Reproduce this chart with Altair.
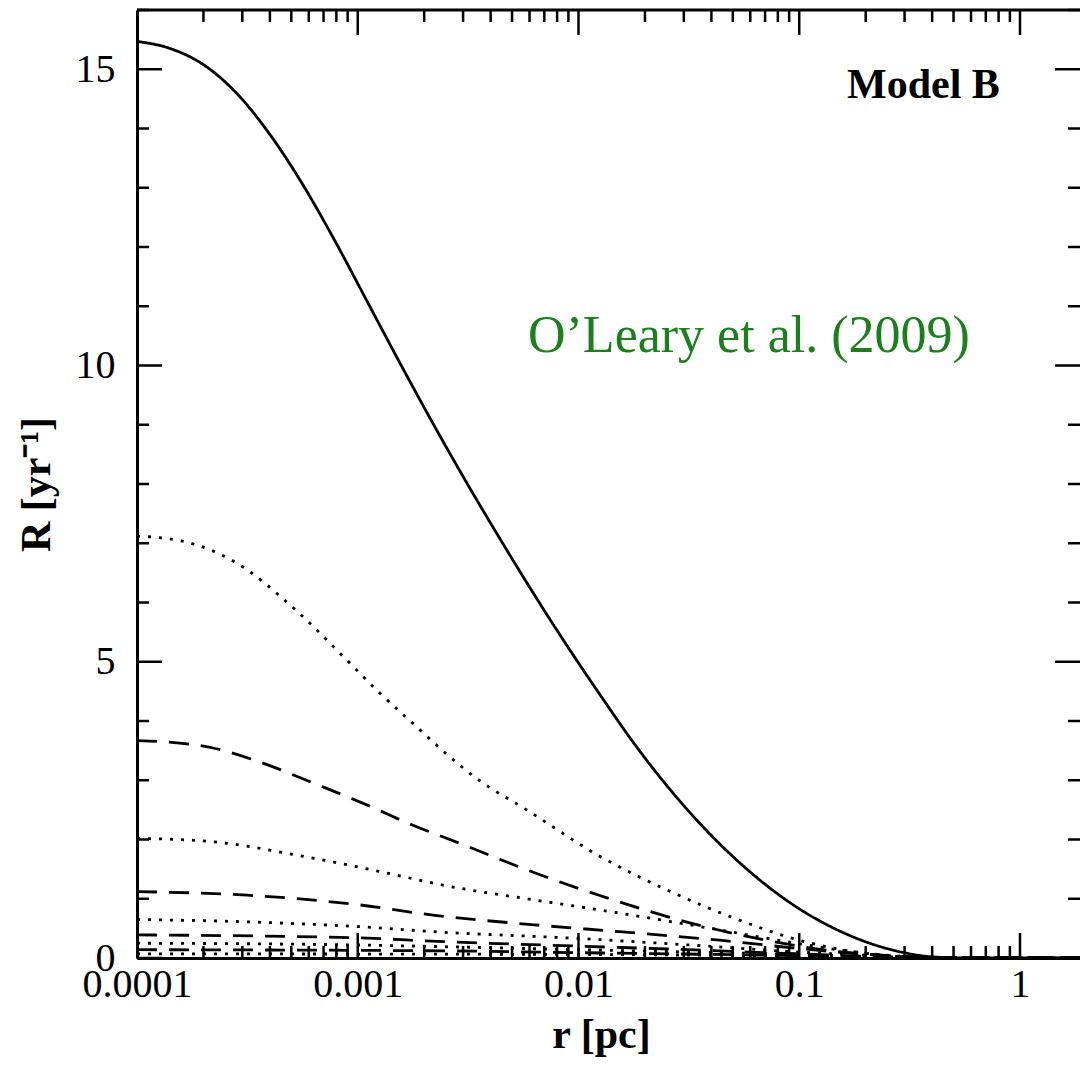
import altair as alt
import pandas as pd

# ---- data: log10(r [pc]) positions and R [yr^-1] values ----
c1_logr = [-4.0, -3.85, -3.70, -3.55, -3.40, -3.25, -3.10, -2.95, -2.80, -2.65, -2.50, -2.35, -2.20, -2.05, -1.90, -1.75,
           -1.60, -1.45, -1.30, -1.15, -1.00, -0.85, -0.70, -0.55, -0.40, -0.25, 0.0, 0.28]
c1_R = [15.47, 15.35, 15.08, 14.60, 13.91, 13.06, 12.08, 11.03, 9.98, 8.96, 7.98, 7.04, 6.13, 5.26, 4.43, 3.63,
        2.91, 2.27, 1.71, 1.23, 0.83, 0.515, 0.275, 0.11, 0.02, 0.0, 0.0, 0.0]

c2_logr = [-4.0, -3.80, -3.65, -3.50, -3.35, -3.20, -3.05, -2.90, -2.75, -2.60, -2.45, -2.235, -1.90, -1.60, -1.30, -1.0, -0.70, -0.45, -0.2, 0.28]
c2_R = [7.12, 7.04, 6.86, 6.55, 6.10, 5.59, 5.03, 4.47, 3.96, 3.45, 3.00, 2.50, 1.71, 1.15, 0.68, 0.30, 0.08, 0.01, 0.0, 0.0]

c3_logr = [-4.0, -3.88, -3.65, -3.43, -3.20, -2.975, -2.75, -2.52, -2.25, -1.90, -1.45, -1.15, -0.85, -0.55, -0.3, 0.28]
c3_R = [3.67, 3.65, 3.54, 3.29, 2.95, 2.61, 2.24, 1.91, 1.51, 1.05, 0.55, 0.30, 0.12, 0.03, 0.0, 0.0]

c4_logr = [-4.0, -3.65, -3.28, -2.90, -2.60, -2.20, -1.80, -1.31, -1.0, -0.7, -0.4, 0.28]
c4_R = [2.02, 1.96, 1.74, 1.46, 1.22, 0.98, 0.75, 0.44, 0.24, 0.08, 0.01, 0.0]

c5_logr = [-4.0, -3.5, -3.0, -2.65, -2.2, -1.8, -1.36, -1.0, -0.6, -0.3, 0.28]
c5_R = [1.12, 1.06, 0.90, 0.72, 0.56, 0.44, 0.30, 0.16, 0.04, 0.0, 0.0]

c6_logr = [-4.0, -3.5, -3.0, -2.64, -2.0, -1.5, -1.0, -0.5, -0.2, 0.28]
c6_R = [0.65, 0.61, 0.53, 0.44, 0.33, 0.22, 0.10, 0.02, 0.0, 0.0]

c7_logr = [-4.0, -3.0, -2.64, -2.0, -1.5, -1.0, -0.5, -0.2, 0.28]
c7_R = [0.39, 0.34, 0.28, 0.20, 0.14, 0.07, 0.01, 0.0, 0.0]

c8_logr = [-4.0, -3.0, -2.6, -2.0, -1.0, -0.5, -0.2, 0.28]
c8_R = [0.25, 0.22, 0.19, 0.14, 0.06, 0.01, 0.0, 0.0]

c9_logr = [-4.0, -2.6, -2.0, -1.0, -0.5, -0.2, 0.28]
c9_R = [0.14, 0.12, 0.09, 0.04, 0.01, 0.0, 0.0]

c10_logr = [-4.0, -2.0, -1.0, -0.5, -0.2, 0.28]
c10_R = [0.07, 0.06, 0.03, 0.005, 0.0, 0.0]

curves = [
    ("c1", "solid", c1_logr, c1_R),
    ("c2", "dotted", c2_logr, c2_R),
    ("c3", "dashed", c3_logr, c3_R),
    ("c4", "dotted", c4_logr, c4_R),
    ("c5", "dashed", c5_logr, c5_R),
    ("c6", "dotted", c6_logr, c6_R),
    ("c7", "dashed", c7_logr, c7_R),
    ("c8", "dotted", c8_logr, c8_R),
    ("c9", "dashed", c9_logr, c9_R),
    ("c10", "dotted", c10_logr, c10_R),
]

x_major = [0.0001, 0.001, 0.01, 0.1, 1]
x_minor = [m * d for d in [0.0001, 0.001, 0.01, 0.1, 1] for m in range(2, 10)]
y_major = [0, 5, 10, 15]
y_minor = [v for v in range(0, 17) if v not in y_major]

rows = []
for name, style, lr, rv in curves:
    for a, b in zip(lr, rv):
        rows.append({"r": 10 ** a, "R": b, "curve": name, "style": style})
df = pd.DataFrame(rows)

W, H = 943, 948
FONT = "Liberation Serif"
xscale = alt.Scale(type="log", domain=[1e-4, 1.87], nice=False)
yscale = alt.Scale(domain=[0, 16], nice=False, zero=False)

lines = alt.Chart(df).mark_line(
    clip=True, interpolate="monotone", strokeWidth=2.8, color="black", strokeCap="butt"
).encode(
    x=alt.X("r:Q", scale=xscale,
            axis=alt.Axis(values=x_major, format="~g", title="r  [pc]", ticks=False,
                          labelFlush=False, labelOverlap=False, labelPadding=6,
                          titlePadding=10, titleX=464)),
    y=alt.Y("R:Q", scale=yscale,
            axis=alt.Axis(values=y_major, format="d", title="R  [yr⁻¹]", ticks=False,
                          labelFlush=False, labelOverlap=False, labelPadding=22,
                          titlePadding=17)),
    strokeDash=alt.StrokeDash("style:N",
                              scale=alt.Scale(domain=["solid", "dotted", "dashed"],
                                              range=[[1, 0], [3, 8], [20, 12]]),
                              legend=None),
    detail="curve:N",
)

ymaj = pd.DataFrame({"v": y_major})
ymin = pd.DataFrame({"v": y_minor})
xmaj = pd.DataFrame({"t": x_major})
xmin = pd.DataFrame({"t": x_minor})

def yticks(d, length):
    left = alt.Chart(d).mark_rule(color="black", strokeWidth=2.5).encode(
        y=alt.Y("v:Q", scale=yscale), x=alt.value(0), x2=alt.value(length))
    right = alt.Chart(d).mark_rule(color="black", strokeWidth=2.5).encode(
        y=alt.Y("v:Q", scale=yscale), x=alt.value(W), x2=alt.value(W - length))
    return [left, right]

def xticks(d, length):
    bottom = alt.Chart(d).mark_rule(color="black", strokeWidth=2.5, clip=True).encode(
        x=alt.X("t:Q", scale=xscale), y=alt.value(H), y2=alt.value(H - length))
    top = alt.Chart(d).mark_rule(color="black", strokeWidth=2.5, clip=True).encode(
        x=alt.X("t:Q", scale=xscale), y=alt.value(0), y2=alt.value(length))
    return [bottom, top]

top_frame = alt.Chart(ymaj.head(1)).mark_rule(color="black", strokeWidth=3).encode(
    x=alt.value(0), x2=alt.value(W), y=alt.value(0))

model_label = alt.Chart(pd.DataFrame({"txt": ["Model  B"]})).mark_text(
    font=FONT, fontSize=42, fontWeight="bold", align="left", baseline="alphabetic", color="black"
).encode(text="txt:N", x=alt.value(710), y=alt.value(88))

ref_label = alt.Chart(pd.DataFrame({"txt": ["O’Leary et al. (2009)"]})).mark_text(
    font=FONT, fontSize=52, align="left", baseline="alphabetic", color="#1a801a"
).encode(text="txt:N", x=alt.value(391), y=alt.value(342))

layers = [lines] + yticks(ymaj, 25) + yticks(ymin, 12) + xticks(xmaj, 25) + xticks(xmin, 12) + [top_frame, model_label, ref_label]

chart = alt.layer(*layers).properties(
    width=W, height=H,
    autosize=alt.AutoSizeParams(type="none"),
    padding={"left": 137, "top": 10, "right": 0, "bottom": 107},
).configure_view(stroke=None).configure_axis(
    grid=False, domainColor="black", domainWidth=3,
    labelFont=FONT, labelFontSize=40, labelColor="black",
    titleFont=FONT, titleFontSize=42, titleFontWeight="bold", titleColor="black",
)

chart.save("out.html", embed_options={"renderer": "svg", "actions": False})
